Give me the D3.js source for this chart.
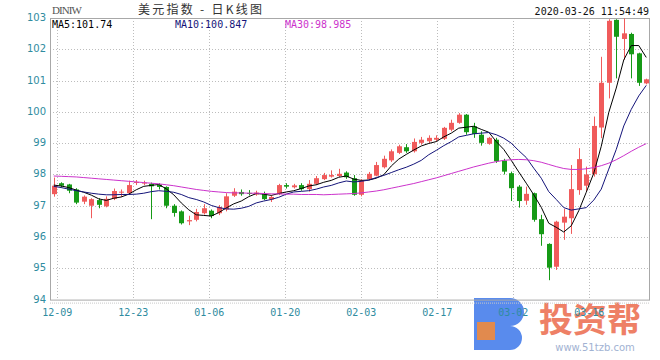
<!DOCTYPE html>
<html><head><meta charset="utf-8">
<script src="https://cdn.jsdelivr.net/npm/d3@7"></script>
<style>body{margin:0;background:#fff}svg{display:block}</style></head>
<body><svg id="c" width="660" height="360"></svg>
<script>
const opens=[97.37,97.72,97.68,97.52,97.13,97.00,97.18,96.98,97.22,97.42,
97.40,97.73,97.72,97.70,97.68,97.60,97.00,96.82,96.50,96.55,
96.76,96.84,96.76,96.88,97.32,97.44,97.41,97.36,97.37,97.20,
97.37,97.66,97.59,97.66,97.53,97.70,97.85,97.93,97.95,98.06,
97.88,97.35,97.85,97.96,98.23,98.45,98.69,98.87,98.74,99.01,
99.06,99.11,99.14,99.43,99.65,99.91,99.54,99.27,98.98,99.11,
98.44,98.04,97.61,97.16,97.40,96.57,95.78,95.05,96.46,96.60,
97.50,97.64,98.01,99.50,100.93,102.94,102.33,102.49,101.87,100.91];
const highs=[97.90,97.75,97.70,97.56,97.33,97.24,97.24,97.30,97.55,97.52,
97.80,97.82,97.80,97.74,97.72,97.62,97.05,96.85,96.68,96.90,
97.05,96.88,97.02,97.40,97.56,97.52,97.50,97.48,97.45,97.33,
97.70,97.72,97.70,97.72,97.82,97.95,98.05,98.13,98.18,98.10,
97.98,97.85,98.08,98.40,98.60,98.80,98.95,98.97,99.15,99.20,
99.25,99.25,99.52,99.75,99.96,99.93,99.65,99.38,99.20,99.17,
98.50,98.09,97.66,97.61,97.42,96.71,95.80,96.52,96.90,98.30,
98.84,98.25,99.85,101.76,102.96,102.96,102.99,102.53,101.89,101.06];
const lows=[97.29,97.58,97.40,97.05,97.05,96.60,96.92,96.95,97.18,97.28,
97.37,97.66,97.66,96.57,97.52,96.92,96.65,96.40,96.38,96.50,
96.72,96.60,96.70,96.82,97.28,97.32,97.33,97.32,97.18,97.12,
97.34,97.55,97.55,97.48,97.45,97.66,97.82,97.90,97.92,97.86,
97.32,97.30,97.82,97.94,98.19,98.40,98.65,98.69,98.70,98.95,
99.00,99.05,99.10,99.38,99.62,99.27,99.17,98.92,98.95,98.37,
98.00,97.15,96.94,97.03,96.49,95.72,94.62,94.95,95.91,96.10,
97.35,97.45,97.93,99.16,100.43,101.07,101.66,101.07,100.83,100.88];
const closes=[97.64,97.64,97.48,97.10,97.29,97.21,97.03,97.22,97.47,97.45,
97.66,97.76,97.74,97.62,97.60,97.00,96.77,96.44,96.54,96.80,
96.92,96.67,96.96,97.30,97.45,97.37,97.39,97.42,97.21,97.28,
97.66,97.61,97.65,97.53,97.70,97.88,97.98,97.98,98.02,97.91,
97.35,97.80,98.02,98.30,98.50,98.74,98.90,98.74,99.04,99.11,
99.17,99.17,99.49,99.65,99.91,99.35,99.29,99.01,99.17,98.42,
98.09,97.56,97.15,97.38,96.55,96.09,95.02,96.49,96.65,97.53,
98.49,98.00,99.55,100.93,102.91,102.40,102.51,101.84,100.93,101.04];
const ma5=[97.66,97.63,97.58,97.50,97.43,97.34,97.22,97.17,97.24,97.28,
97.37,97.51,97.62,97.65,97.68,97.54,97.35,97.09,96.87,96.71,
96.69,96.67,96.78,96.93,97.06,97.15,97.29,97.39,97.37,97.33,
97.39,97.44,97.48,97.55,97.63,97.67,97.75,97.81,97.91,97.95,
97.85,97.81,97.82,97.88,97.99,98.27,98.49,98.64,98.78,98.91,
98.99,99.05,99.20,99.32,99.48,99.51,99.54,99.44,99.35,99.05,
98.80,98.45,98.08,97.72,97.35,96.95,96.44,96.31,96.16,96.36,
96.84,97.43,98.04,98.90,99.98,100.76,101.66,102.12,102.12,101.74];
const ma10=[97.62,97.58,97.53,97.48,97.44,97.40,97.37,97.35,97.35,97.36,
97.36,97.37,97.40,97.45,97.48,97.46,97.43,97.36,97.26,97.20,
97.12,97.01,96.94,96.90,96.89,96.92,96.98,97.09,97.15,97.20,
97.27,97.37,97.44,97.46,97.48,97.53,97.60,97.65,97.73,97.79,
97.76,97.78,97.82,97.90,97.97,98.06,98.15,98.23,98.33,98.45,
98.63,98.77,98.92,99.05,99.20,99.25,99.30,99.32,99.34,99.27,
99.16,99.00,98.76,98.54,98.20,97.88,97.45,97.20,96.94,96.86,
96.90,96.94,97.18,97.53,98.17,98.80,99.55,100.08,100.51,100.847];
const ma30=[97.95,97.94,97.93,97.92,97.90,97.88,97.86,97.84,97.82,97.80,
97.78,97.76,97.74,97.72,97.70,97.67,97.64,97.60,97.56,97.52,
97.49,97.46,97.44,97.42,97.41,97.41,97.40,97.40,97.39,97.38,
97.38,97.37,97.37,97.36,97.36,97.36,97.35,97.36,97.37,97.38,
97.39,97.41,97.44,97.47,97.51,97.56,97.61,97.66,97.71,97.77,
97.83,97.89,97.96,98.03,98.10,98.17,98.24,98.30,98.36,98.41,
98.45,98.47,98.48,98.47,98.44,98.39,98.32,98.25,98.19,98.16,
98.16,98.18,98.22,98.28,98.36,98.47,98.60,98.74,98.87,98.985];
const dateLabels=["12-09","12-23","01-06","01-20","02-03","02-17","03-02","03-16"];
const yTicks=[94,95,96,97,98,99,100,101,102,103];
const maLegend=[{name:"MA5",value:"101.74"},{name:"MA10",value:"100.847"},{name:"MA30",value:"98.985"}];

const svg=d3.select("#c");
const L=50,R=650,T=18,B=299.6;
const idx=d3.range(closes.length);
const x=d3.scaleBand().domain(idx).range([L,R]);
const xc=i=>x(i)+x.bandwidth()/2;
const y=d3.scaleLinear().domain([94,103]).range([B,T]);
const xd=d3.scalePoint().domain(dateLabels).range([57.3,589.3]);
const grid="#bdbdbd", teal="#2f8ca0";
const up="#f05b5b", down="#169a16";
const maColors=["#000000","#14147a","#cc33cc"];

// watermark (behind the chart texts)
const wm=svg.append("g");
wm.append("path").attr("d","M474,298 h36 a14,14 0 0 1 0,28 a12,12 0 0 1 0,24 h-36 z")
  .attr("fill","#2f6ee8").attr("opacity",0.8);
wm.append("rect").attr("x",477).attr("y",322).attr("width",18).attr("height",18).attr("fill","#f08a3c").attr("opacity",0.9);
wm.append("text").attr("x",539).attr("y",332).attr("font-family","Noto Sans CJK SC").attr("font-weight","bold")
  .attr("font-size",34).attr("fill","#ec6a4c").attr("opacity",0.85).text("投资帮");
wm.append("text").attr("x",595).attr("y",351).attr("text-anchor","middle").attr("font-family","DejaVu Sans")
  .attr("font-size",10).attr("fill","#8aa0c8").attr("opacity",0.8).text("www.51tzb.com");

// grid
svg.append("g").selectAll("line").data(yTicks.slice(1,-1)).join("line")
  .attr("x1",L).attr("x2",R).attr("y1",d=>Math.round(y(d))+0.5).attr("y2",d=>Math.round(y(d))+0.5)
  .attr("stroke",grid).attr("stroke-dasharray","1,2");
svg.append("g").selectAll("line").data(dateLabels).join("line")
  .attr("x1",d=>Math.round(xd(d))+0.5).attr("x2",d=>Math.round(xd(d))+0.5).attr("y1",T).attr("y2",B)
  .attr("stroke",grid).attr("stroke-dasharray","1,2");
// frame
svg.append("rect").attr("x",L+0.5).attr("y",T+0.5).attr("width",R-L-1).attr("height",B-T)
  .attr("fill","none").attr("stroke","#a8a8a8");
svg.append("line").attr("x1",L).attr("x2",R).attr("y1",B+3.5).attr("y2",B+3.5)
  .attr("stroke","#c8c8c8").attr("stroke-dasharray","1,1");

// y labels
svg.append("g").selectAll("text").data(yTicks).join("text")
  .attr("x",46).attr("y",d=>y(d)+3).attr("text-anchor","end")
  .attr("font-family","DejaVu Sans").attr("font-size",10).attr("fill",teal).text(d=>d);
// x labels
svg.append("g").selectAll("text").data(dateLabels).join("text")
  .attr("x",d=>xd(d)).attr("y",316).attr("text-anchor","middle")
  .attr("font-family","DejaVu Sans Mono").attr("font-size",10).attr("fill",teal).text(d=>d);

// candles
const cg=svg.append("g");
const bw=5;
cg.selectAll("line").data(idx).join("line")
  .attr("x1",i=>Math.round(xc(i))+0.5).attr("x2",i=>Math.round(xc(i))+0.5)
  .attr("y1",i=>y(highs[i])).attr("y2",i=>y(lows[i]))
  .attr("stroke",i=>closes[i]>=opens[i]?up:down).attr("stroke-width",1);
cg.selectAll("rect").data(idx).join("rect")
  .attr("x",i=>Math.round(xc(i))+0.5-bw/2).attr("width",bw)
  .attr("y",i=>y(Math.max(opens[i],closes[i])))
  .attr("height",i=>Math.max(1,y(Math.min(opens[i],closes[i]))-y(Math.max(opens[i],closes[i]))))
  .attr("fill",i=>closes[i]>=opens[i]?up:down);

// MA lines
const line=s=>d3.line().x((d,i)=>xc(i)).y(d=>y(d))(s);
[ma5,ma10,ma30].forEach((s,k)=>{
  svg.append("path").attr("d",line(s)).attr("fill","none").attr("stroke",maColors[k]).attr("stroke-width",1);
});

// header
svg.append("text").attr("x",52).attr("y",14).attr("font-family","Liberation Serif").attr("font-size",11)
  .attr("fill","#555").attr("textLength",30).text("DINIW");
svg.append("text").attr("x",138).attr("y",14).attr("font-family","Noto Sans CJK SC").attr("font-size",12)
  .attr("fill","#333").attr("textLength",124).attr("lengthAdjust","spacing").text("美元指数 - 日K线图");
svg.append("text").attr("x",649).attr("y",15).attr("text-anchor","end")
  .attr("font-family","DejaVu Sans Mono").attr("font-size",10).attr("fill","#111").text("2020-03-26 11:54:49");
const legX=[52,175,285];
svg.append("g").selectAll("text").data(maLegend).join("text")
  .attr("x",(d,i)=>legX[i]).attr("y",27.5).attr("font-family","DejaVu Sans Mono").attr("font-size",10)
  .attr("fill",(d,i)=>maColors[i]).text(d=>d.name+":"+d.value);
</script></body></html>
